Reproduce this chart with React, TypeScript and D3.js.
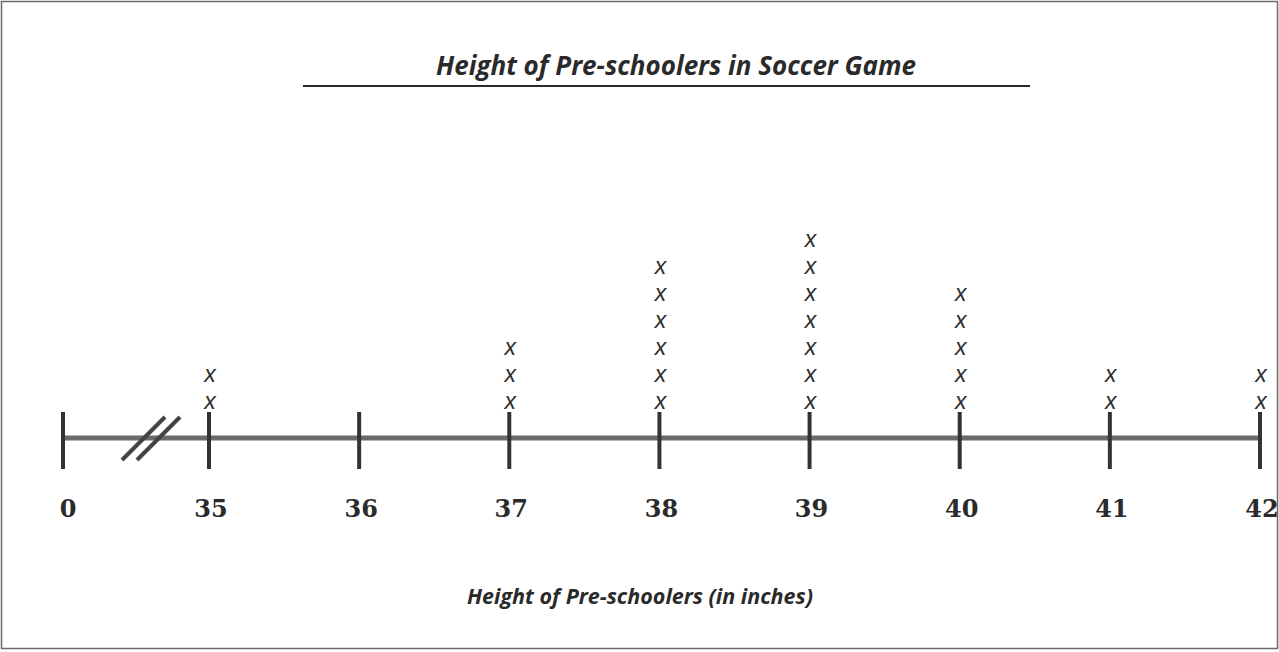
import { useEffect, useRef } from "react";
import * as d3 from "d3";

// Dot-plot (line plot) of pre-schooler heights
const heights = [35, 36, 37, 38, 39, 40, 41, 42];
const counts = [2, 0, 3, 6, 7, 5, 2, 2];
const tickValues = [0, 35, 36, 37, 38, 39, 40, 41, 42];
const tickLabels = ["0", "35", "36", "37", "38", "39", "40", "41", "42"];

const title = "Height of Pre-schoolers in Soccer Game";
const axisTitle = "Height of Pre-schoolers (in inches)";

const width = 1279;
const height = 652;

const App = () => {
  const svgRef = useRef<SVGSVGElement>(null);

  useEffect(() => {
    if (!svgRef.current) return;
    const svg = d3.select(svgRef.current);
    svg.selectAll("*").remove();

    const axisY = 438;

    // broken axis: 0 sits before the break, then 35..42 evenly spaced
    const x = d3.scaleLinear().domain([0, 35, 42]).range([63, 209, 1260]);
    const y = d3.scaleLinear().domain([1, 7]).range([403, 241]);

    // frame
    svg
      .append("rect")
      .attr("x", 1.5)
      .attr("y", 1.5)
      .attr("width", width - 3)
      .attr("height", height - 5)
      .attr("fill", "none")
      .attr("stroke", "#6a6a6a")
      .attr("stroke-width", 1.5);

    // title + underline
    svg
      .append("text")
      .attr("x", 676)
      .attr("y", 75)
      .attr("text-anchor", "middle")
      .attr("font-family", "'Open Sans', sans-serif")
      .attr("font-style", "italic")
      .attr("font-weight", 700)
      .attr("font-size", 26)
      .attr("fill", "#2a2a2a")
      .text(title);

    svg
      .append("line")
      .attr("x1", 303)
      .attr("x2", 1030)
      .attr("y1", 86)
      .attr("y2", 86)
      .attr("stroke", "#2a2a2a")
      .attr("stroke-width", 2);

    // axis line
    svg
      .append("line")
      .attr("x1", x(0))
      .attr("x2", x(42))
      .attr("y1", axisY)
      .attr("y2", axisY)
      .attr("stroke", "#6b6b6b")
      .attr("stroke-width", 5);

    // break marks
    const g = svg.append("g").attr("stroke", "#444").attr("stroke-width", 4);
    [0, 15].forEach((dx) => {
      g.append("line")
        .attr("x1", 122 + dx)
        .attr("y1", 460)
        .attr("x2", 165 + dx)
        .attr("y2", 417);
    });

    // ticks
    svg
      .append("g")
      .selectAll("line")
      .data(tickValues)
      .enter()
      .append("line")
      .attr("x1", (d) => x(d))
      .attr("x2", (d) => x(d))
      .attr("y1", axisY - 26)
      .attr("y2", axisY + 31)
      .attr("stroke", "#333")
      .attr("stroke-width", 4);

    // tick labels
    svg
      .append("g")
      .selectAll("text")
      .data(tickValues)
      .enter()
      .append("text")
      .attr("x", (d, i) => x(d) + (i === 0 ? 5 : i === tickValues.length - 1 ? 2 : 2))
      .attr("y", 517)
      .attr("text-anchor", "middle")
      .attr("font-family", "'DejaVu Serif', serif")
      .attr("font-weight", 700)
      .attr("font-size", 24)
      .attr("fill", "#2b2b2b")
      .text((d, i) => tickLabels[i]);

    // stacked x marks
    const marks: { v: number; k: number }[] = [];
    heights.forEach((h, i) => {
      for (let k = 1; k <= counts[i]; k++) marks.push({ v: h, k });
    });

    svg
      .append("g")
      .selectAll("text")
      .data(marks)
      .enter()
      .append("text")
      .attr("x", (d) => x(d.v) + 1)
      .attr("y", (d) => y(d.k))
      .attr("dominant-baseline", "middle")
      .attr("text-anchor", "middle")
      .attr("font-family", "'Liberation Sans', sans-serif")
      .attr("font-style", "italic")
      .attr("font-size", 23)
      .attr("fill", "#2e2e2e")
      .text("x");

    // axis title
    svg
      .append("text")
      .attr("x", 640)
      .attr("y", 604)
      .attr("text-anchor", "middle")
      .attr("font-family", "'Open Sans', sans-serif")
      .attr("font-style", "italic")
      .attr("font-weight", 700)
      .attr("font-size", 21.5)
      .attr("fill", "#2a2a2a")
      .text(axisTitle);
  }, []);

  return (
    <div style={{ position: "absolute", left: 0, top: 0 }}>
      <svg ref={svgRef} width={width} height={height} style={{ display: "block", background: "#fff" }}></svg>
    </div>
  );
};

export default App;
